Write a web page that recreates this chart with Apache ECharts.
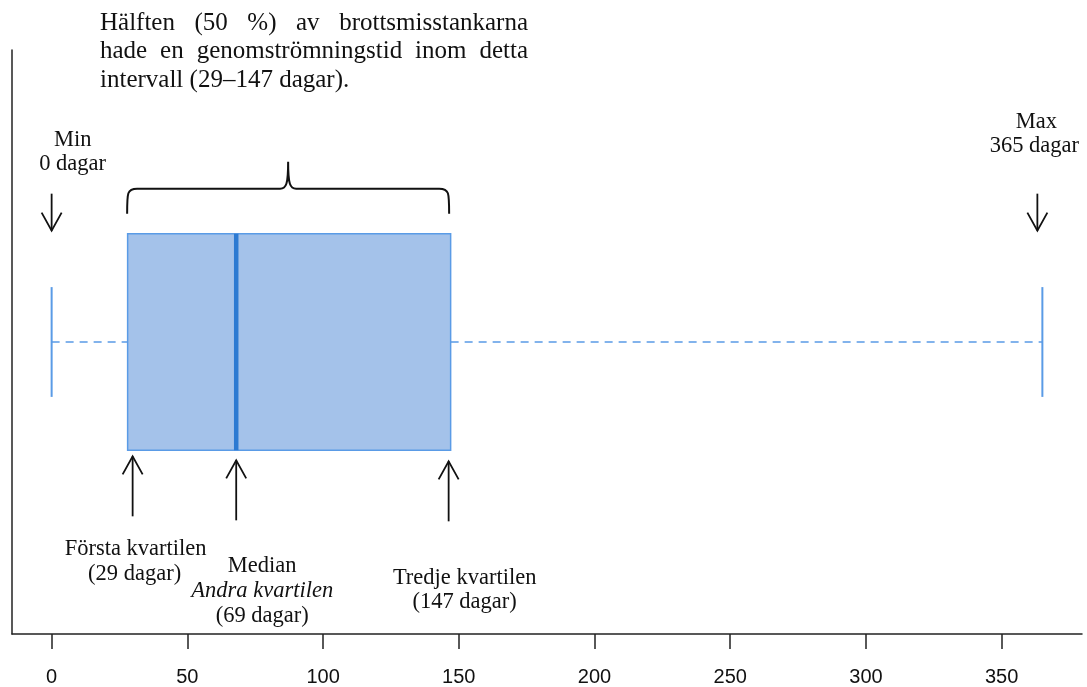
<!DOCTYPE html>
<html>
<head>
<meta charset="utf-8">
<script src="https://cdn.jsdelivr.net/npm/echarts@6/dist/echarts.min.js"></script>
<style>
html,body{margin:0;padding:0;background:#fff;}
#chart{width:1087px;height:687px;}
</style>
</head>
<body>
<div id="chart"></div>
<script>
// ---- data ----
const minVal = 0;
const q1Val = 28;
const medianVal = 68;
const q3Val = 147;
const maxVal = 365;
const tickValues = [0, 50, 100, 150, 200, 250, 300, 350];

// ---- annotation texts ----
const paragraphLines = [
  "Hälften (50 %) av brottsmisstankarna",
  "hade en genomströmningstid inom detta",
  "intervall (29–147 dagar)."
];
const minLabel = ["Min", "0 dagar"];
const maxLabel = ["Max", "365 dagar"];
const q1Label = ["Första kvartilen", "(29 dagar)"];
const medianLabel = ["Median", "Andra kvartilen", "(69 dagar)"];
const q3Label = ["Tredje kvartilen", "(147 dagar)"];

const SERIF = "'Liberation Serif', 'Times New Roman', serif";
const LABEL_SIZE = 22.5;
const PARA_SIZE = 25;

const measureCtx = document.createElement('canvas').getContext('2d');
function textWidth(t, size) {
  measureCtx.font = size + "px " + SERIF;
  return measureCtx.measureText(t).width;
}

function txt(text, x, y, opts) {
  opts = opts || {};
  return {
    type: 'text',
    style: {
      text: text, x: x, y: y,
      fill: '#111',
      fontSize: opts.size || LABEL_SIZE,
      fontFamily: SERIF,
      fontStyle: opts.italic ? 'italic' : 'normal',
      align: opts.align || 'center',
      verticalAlign: 'middle'
    }
  };
}
function arrow(x, yTip, yTail) {
  const dir = yTail > yTip ? 1 : -1; // 1: pointing up
  const hl = 18, hw = 10;
  return [
    { type: 'line', shape: { x1: x, y1: yTail, x2: x, y2: yTip }, style: { stroke: '#111', lineWidth: 1.8 } },
    { type: 'polyline', shape: { points: [[x - hw, yTip + dir * hl], [x, yTip], [x + hw, yTip + dir * hl]] }, style: { stroke: '#111', lineWidth: 1.8, fill: null } }
  ];
}

const chart = echarts.init(document.getElementById('chart'));

const option = {
  animation: false,
  backgroundColor: '#fff',
  grid: { left: 12, right: 5, top: 50, bottom: 52, containLabel: false },
  xAxis: {
    type: 'value',
    min: minVal - 0.04 * (maxVal - minVal),
    max: maxVal + 0.04 * (maxVal - minVal),
    axisLine: { show: true, lineStyle: { color: '#222', width: 1.5 } },
    axisTick: { show: true, length: 15, lineStyle: { color: '#222', width: 1.5 }, customValues: tickValues },
    axisLabel: {
      show: true, customValues: tickValues, margin: 33,
      fontFamily: "'Liberation Sans', Arial, sans-serif", fontSize: 20, color: '#111'
    },
    splitLine: { show: false }
  },
  yAxis: {
    type: 'value', min: 0, max: 1,
    axisLine: { show: true, onZero: false, lineStyle: { color: '#222', width: 1.5 } },
    axisTick: { show: false }, axisLabel: { show: false }, splitLine: { show: false }
  },
  series: [{
    type: 'custom',
    data: [[minVal, q1Val, medianVal, q3Val, maxVal]],
    clip: false,
    renderItem: function (params, api) {
      const mn = api.value(0), a = api.value(1), m = api.value(2), b = api.value(3), mx = api.value(4);
      const X = v => api.coord([v, 0.5])[0];
      const yc = api.coord([0, 0.5])[1];
      const half = api.size([0, 0.1855])[1];
      const capHalf = api.size([0, 0.094])[1];
      const xMin = X(mn), xA = X(a), xM = X(m), xB = X(b), xMax = X(mx);
      const blue = '#5a9be6';
      const children = [];
      // whiskers
      children.push({ type: 'line', shape: { x1: xMin, y1: yc, x2: xA, y2: yc }, style: { stroke: blue, lineWidth: 1.6, lineDash: [8, 6] } });
      children.push({ type: 'line', shape: { x1: xB, y1: yc, x2: xMax, y2: yc }, style: { stroke: blue, lineWidth: 1.6, lineDash: [8, 6] } });
      children.push({ type: 'line', shape: { x1: xMin, y1: yc - capHalf, x2: xMin, y2: yc + capHalf }, style: { stroke: blue, lineWidth: 2 } });
      children.push({ type: 'line', shape: { x1: xMax, y1: yc - capHalf, x2: xMax, y2: yc + capHalf }, style: { stroke: blue, lineWidth: 2 } });
      // box
      children.push({ type: 'rect', shape: { x: xA, y: yc - half, width: xB - xA, height: 2 * half }, style: { fill: '#a4c2ea', stroke: blue, lineWidth: 1.5 } });
      // median
      children.push({ type: 'line', shape: { x1: xM, y1: yc - half, x2: xM, y2: yc + half }, style: { stroke: '#2d7ad2', lineWidth: 4.5 } });

      const top = yc - half, bot = yc + half;
      // brace over the box
      const bx1 = xA - 0.5, bx2 = xB - 1.5, bm = (bx1 + bx2) / 2, by = top - 45, bEnd = top - 20, bPeak = top - 72;
      children.push({
        type: 'path',
        shape: {
          pathData: 'M' + bx1 + ',' + bEnd + ' C' + bx1 + ',' + (by + 4) + ' ' + bx1 + ',' + by + ' ' + (bx1 + 10) + ',' + by +
            ' L' + (bm - 8) + ',' + by + ' C' + (bm - 2) + ',' + by + ' ' + bm + ',' + (by - 4) + ' ' + bm + ',' + bPeak +
            ' C' + bm + ',' + (by - 4) + ' ' + (bm + 2) + ',' + by + ' ' + (bm + 8) + ',' + by +
            ' L' + (bx2 - 10) + ',' + by + ' C' + bx2 + ',' + by + ' ' + bx2 + ',' + (by + 4) + ' ' + bx2 + ',' + bEnd
        },
        style: { stroke: '#111', lineWidth: 2, fill: null }
      });
      // down arrows for min / max
      children.push(...arrow(xMin, top - 3, top - 40));
      children.push(...arrow(xMax - 5, top - 3, top - 40));
      // up arrows for quartiles
      children.push(...arrow(xA + 5, bot + 6, bot + 66));
      children.push(...arrow(xM, bot + 10, bot + 70));
      children.push(...arrow(xB - 2, bot + 11, bot + 71));

      // labels
      children.push(txt(minLabel[0], xMin + 21, top - 94));
      children.push(txt(minLabel[1], xMin + 21, top - 70));
      children.push(txt(maxLabel[0], xMax - 6, top - 112));
      children.push(txt(maxLabel[1], xMax - 8, top - 88));
      children.push(txt(q1Label[0], xA + 8, bot + 99));
      children.push(txt(q1Label[1], xA + 7, bot + 124));
      children.push(txt(medianLabel[0], xM + 26, bot + 116));
      children.push(txt(medianLabel[1], xM + 26, bot + 141, { italic: true }));
      children.push(txt(medianLabel[2], xM + 26, bot + 166));
      children.push(txt(q3Label[0], xB + 14, bot + 128));
      children.push(txt(q3Label[1], xB + 14, bot + 152));

      // justified paragraph
      const pLeft = 100, pRight = 528, pTop = 23, pLH = 28.5;
      paragraphLines.forEach(function (line, i) {
        const y = pTop + i * pLH;
        const last = i === paragraphLines.length - 1;
        const words = line.split(' ');
        if (last || words.length < 2) {
          children.push(txt(line, pLeft, y, { size: PARA_SIZE, align: 'left' }));
          return;
        }
        const widths = words.map(w => textWidth(w, PARA_SIZE));
        const total = widths.reduce((s, w) => s + w, 0);
        const gap = (pRight - pLeft - total) / (words.length - 1);
        let x = pLeft;
        words.forEach(function (w, j) {
          children.push(txt(w, x, y, { size: PARA_SIZE, align: 'left' }));
          x += widths[j] + gap;
        });
      });
      return { type: 'group', children: children };
    }
  }]
};
chart.setOption(option);
</script>
</body>
</html>
